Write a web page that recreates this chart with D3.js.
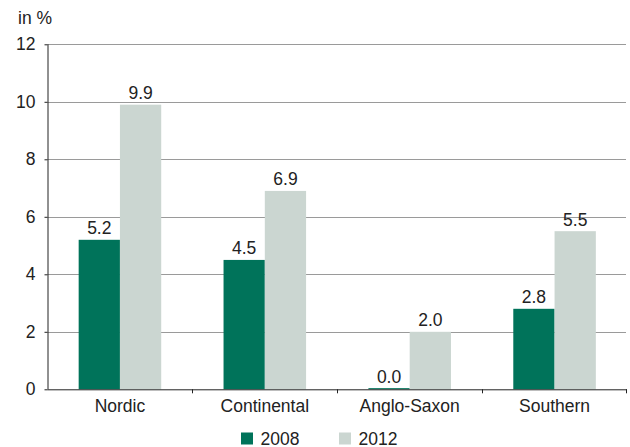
<!DOCTYPE html>
<html><head><meta charset="utf-8">
<script src="https://cdn.jsdelivr.net/npm/d3@7"></script>
<style>
html,body{margin:0;padding:0;background:#fff;}
text{font-family:"Liberation Sans",Arial,Helvetica,sans-serif;fill:#222;}
</style></head>
<body><svg id="c" width="630" height="447"></svg>
<script>
const categories = ["Nordic", "Continental", "Anglo-Saxon", "Southern"];
const series = ["2008", "2012"];
const values2008 = [5.2, 4.5, 0.04, 2.8];
const values2012 = [9.9, 6.9, 2.0, 5.5];
const yTicks = [0, 2, 4, 6, 8, 10, 12];
const colors = ["#00735a", "#cbd6d1"];

const FS = 17.5;
const svg = d3.select("#c");
const x0 = 47.5, x1 = 627, yTop = 44.3, yBot = 389.3;

const x = d3.scaleBand().domain(categories).range([x0, x1]).paddingInner(0).paddingOuter(0);
const xs = d3.scaleBand().domain(series).range([0, x.bandwidth()]).paddingInner(0).paddingOuter(0.755);
const y = d3.scaleLinear().domain([0, 12]).range([yBot, yTop]);

// gridlines
svg.append("g").selectAll("line").data(yTicks.filter(d => d > 0)).join("line")
  .attr("x1", x0).attr("x2", x1 - 1)
  .attr("y1", d => Math.round(y(d)) + 0.5).attr("y2", d => Math.round(y(d)) + 0.5)
  .attr("stroke", "#9a9a9a").attr("stroke-width", 1);

const data = categories.map((c, i) => ({c, vals: [values2008[i], values2012[i]]}));

const groups = svg.append("g").selectAll("g").data(data).join("g")
  .attr("transform", d => `translate(${x(d.c)},0)`);

groups.selectAll("rect").data(d => d.vals.map((v, j) => ({v, s: series[j], j}))).join("rect")
  .attr("x", d => xs(d.s)).attr("width", xs.bandwidth())
  .attr("y", d => y(d.v)).attr("height", d => yBot - y(d.v))
  .attr("fill", d => colors[d.j]);

groups.selectAll("text.v").data(d => d.vals.map((v, j) => ({v, s: series[j], j}))).join("text")
  .attr("class", "v")
  .attr("x", d => xs(d.s) + xs.bandwidth() / 2)
  .attr("y", d => y(d.v) - 5.5)
  .attr("text-anchor", "middle").attr("font-size", FS)
  .text(d => d3.format(".1f")(d.v));

// y axis
const yAxis = svg.append("g").attr("transform", `translate(${x0},0)`)
  .call(d3.axisLeft(y).tickValues(yTicks).tickSize(3).tickPadding(9).tickFormat(d3.format("d")));
yAxis.select(".domain").attr("stroke", "#222").attr("d", `M0.5,${yTop}V${yBot}`);
yAxis.selectAll(".tick line").attr("stroke", "#222");
yAxis.selectAll(".tick text").attr("font-size", FS).attr("fill", "#222")
  .attr("font-family", "Liberation Sans, Arial, sans-serif");

// x axis
const xAxis = svg.append("g").attr("transform", `translate(0,${yBot})`)
  .call(d3.axisBottom(x).tickSize(0).tickPadding(0));
xAxis.select(".domain").attr("stroke", "#222").attr("d", `M${x0},0.5H${x1}`);
xAxis.selectAll(".tick text").attr("font-size", FS).attr("fill", "#222")
  .attr("font-family", "Liberation Sans, Arial, sans-serif").attr("dy", null).attr("y", 412 - yBot);
// category separator ticks
svg.append("g").selectAll("line").data(categories.slice(1).concat(["__end"])).join("line")
  .attr("x1", d => d === "__end" ? x1 - 0.5 : Math.round(x(d)) + 0.5)
  .attr("x2", d => d === "__end" ? x1 - 0.5 : Math.round(x(d)) + 0.5)
  .attr("y1", yBot).attr("y2", yBot + 4).attr("stroke", "#222");

// unit label
svg.append("text").attr("x", 18).attr("y", 24).attr("font-size", FS).text("in %");

// legend
const legX = [241, 339];
const leg = svg.append("g").selectAll("g").data(series).join("g")
  .attr("transform", (d, i) => `translate(${legX[i]},432.5)`);
leg.append("rect").attr("width", 12).attr("height", 12).attr("fill", (d, i) => colors[i]);
leg.append("text").attr("x", 19.5).attr("y", 12).attr("font-size", FS).text(d => d);
</script></body></html>
